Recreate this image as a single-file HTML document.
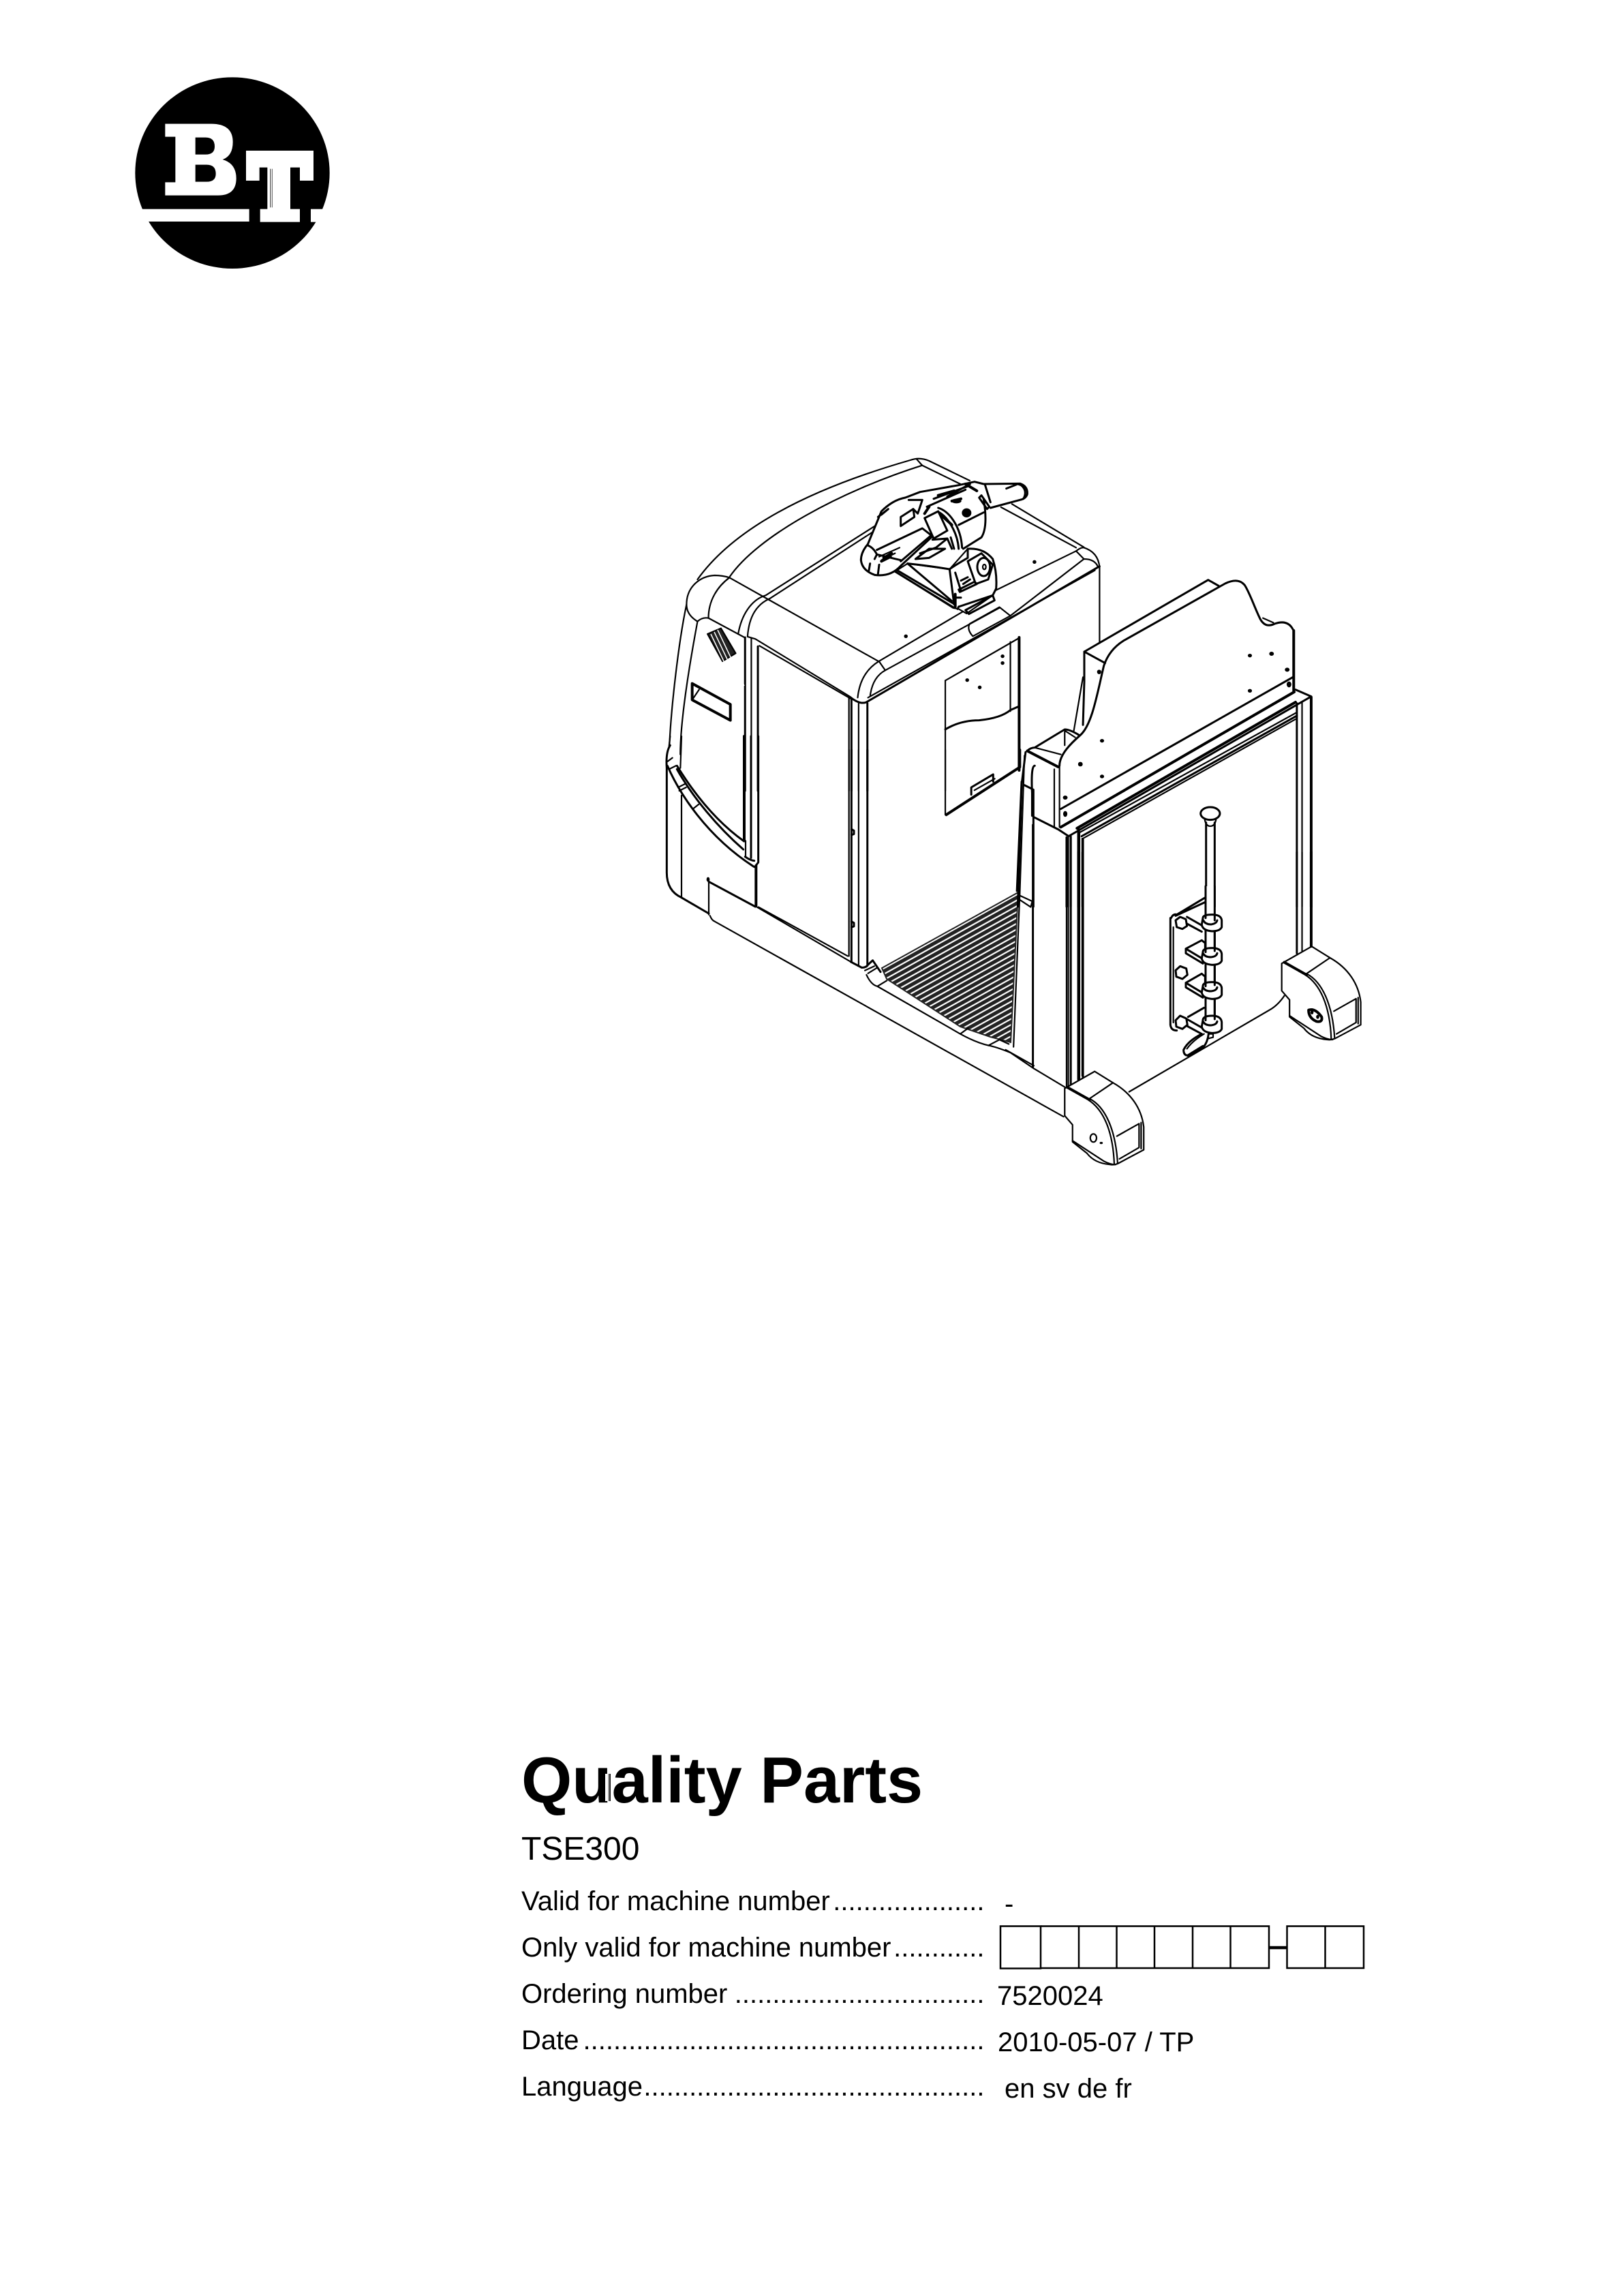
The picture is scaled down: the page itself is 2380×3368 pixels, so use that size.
<!DOCTYPE html>
<html lang="en">
<head>
<meta charset="utf-8">
<title>Quality Parts TSE300</title>
<style>
html,body{margin:0;padding:0;background:#fff;}
svg{display:block;}
.l *,#foot *{vector-effect:non-scaling-stroke;}
.l{fill:none;stroke:#000;stroke-width:2.2;stroke-linecap:round;stroke-linejoin:round;}
.t{font-family:"Liberation Sans",sans-serif;fill:#000;}
.d{fill:#000;stroke:none;}
.w{fill:#fff;}
.b{stroke-width:4;}
.m{stroke-width:3;}
</style>
</head>
<body>
<svg xmlns="http://www.w3.org/2000/svg" width="2380" height="3368" viewBox="0 0 2380 3368">
<defs>
<pattern id="mat" patternUnits="userSpaceOnUse" width="20" height="7.4" patternTransform="rotate(-29)">
<rect width="20" height="7.4" fill="#fff"/><rect width="20" height="5.2" fill="#222"/>
</pattern>
<g id="foot">
<path class="w" d="M215,1040 L330,965 L400,1015 C470,1060 510,1130 518,1210 V1310 L420,1370 Q405,1378 390,1375 Q330,1370 300,1325 L245,1275 V1200 L215,1160 Z"/>
<path d="M310,1085 L400,1015"/>
<path class="b" d="M225,1035 L310,1090"/>
<path d="M310,1085 C370,1120 410,1220 418,1370"/>
<path d="M305,1090 C360,1130 400,1220 405,1375"/>
<path d="M415,1250 L500,1195 V1300 L425,1350"/>
<path d="M508,1190 V1305"/>
<path d="M245,1270 L365,1360 Q390,1375 410,1375"/>
</g>
</defs>
<rect width="2380" height="3368" fill="#fff"/>

<!-- logo -->
<g transform="translate(150 80) scale(.33333)">
<ellipse cx="573" cy="521" rx="428" ry="421" fill="#000"/>
<rect x="100" y="680" width="547" height="55" fill="#fff"/>
<rect x="918" y="680" width="100" height="57" fill="#fff"/>
<path fill="#fff" fill-rule="evenodd" d="M277,305 H480 Q575,305 575,385 Q575,445 530,462 Q590,480 590,545 Q590,620 510,620 H277 V562 H322 V362 H277 Z M410,365 H455 Q495,365 495,405 Q495,440 455,440 H410 Z M410,485 H460 Q500,485 500,525 Q500,560 460,560 H410 Z"/>
<path fill="#fff" d="M633,423 H930 V555 H870 V497 H828 V680 H870 V737 H695 V680 H727 V497 H692 V555 H633 Z"/>
<rect x="738" y="503" width="5" height="170" fill="#777"/>
<rect x="747" y="503" width="2" height="170" fill="#222"/>
</g>

<!-- body: zoom 2 space -->
<g class="l" transform="translate(950 640) scale(.4591 .3333)">
<path d="M160,630 C300,360 600,200 840,105 Q870,90 900,108 L1030,195"/>
<path d="M262,620 C350,440 620,240 878,128 L860,100"/>
<path d="M878,128 L1000,210"/>
<path d="M1130,312 L1370,490 M1165,298 L1395,488"/>
<path d="M290,870 C300,790 330,720 378,700 L730,392"/>
<path d="M320,880 C325,790 350,740 390,715 L735,408"/>
<path d="M262,622 L738,990"/>
<path d="M740,990 Q680,1040 672,1150"/>
<path d="M760,1030 Q720,1060 712,1140"/>
<path d="M740,990 L760,1030"/>
<path d="M740,990 L1010,770 M1110,680 L1370,505"/>
<path d="M760,1030 L1125,755 M1160,790 L1395,540"/>
<path d="M1125,752 L1160,790 M1125,752 L1030,825 Q1020,850 1040,880 L1160,790"/>
<path d="M1370,505 Q1385,488 1395,490 Q1440,510 1445,575"/>
<path d="M1395,540 Q1430,540 1440,575"/>
<path d="M1370,505 L1395,540"/>
<path class="m" d="M1445,572 L700,1170 Q680,1182 650,1150"/>
<path d="M1430,590 L705,1150"/>
<path d="M1445,575 V905"/>
<path d="M320,882 L345,892 L650,1148"/>
<path d="M358,922 L650,1155"/>
<path d="M125,740 C125,660 170,615 215,612 Q240,612 262,622"/>
<path d="M195,800 C195,720 225,660 262,622"/>
<path d="M160,815 C130,790 125,760 125,740"/>
<path d="M160,815 Q175,795 195,800 L310,885"/>
<path d="M125,740 C100,900 75,1200 70,1370"/>
<path d="M160,815 C135,1000 105,1250 105,1400"/>
<path d="M192,870 L235,845 L282,955 L240,990 Z" fill="#222"/>
<path class="b" d="M143,1088 L265,1180 V1250 L143,1160 Z"/>
<path d="M143,1160 L165,1115"/>
<path class="m" d="M312,885 V1560"/>
<path d="M332,890 V1560"/>
<path class="m" d="M353,925 V1560"/>
<path d="M644,1150 V1560"/>
<path class="m" d="M652,1155 V1560"/>
<path d="M675,1175 V1560"/>
<path class="m" d="M703,1175 V1560"/>
<path d="M952,1075 L1185,890"/>
<path class="b" d="M1188,885 V1470"/>
<path d="M952,1075 V1560"/>
<path class="m" d="M952,1290 Q1000,1250 1060,1250 Q1130,1240 1160,1205 L1185,1190"/>
<path d="M1160,905 V1210"/>
<ellipse class="d" cx="1135" cy="968" rx="6" ry="8"/>
<ellipse class="d" cx="1135" cy="998" rx="6" ry="8"/>
<ellipse class="d" cx="1022" cy="1073" rx="6" ry="8"/>
<ellipse class="d" cx="1062" cy="1105" rx="6" ry="8"/>
<ellipse class="d" cx="1237" cy="553" rx="6" ry="8"/>
<ellipse class="d" cx="826" cy="880" rx="6" ry="8"/>
</g>
<g stroke="#fff" stroke-width="1.5" fill="none">
<path d="M1043,930 L1082,1012 M1048,927 L1087,1009 M1053,924 L1092,1006"/>
</g>

<!-- lower body left: zoom 11 space -->
<g class="l" transform="translate(960 1080) scale(.33333)">
<path class="m" d="M70,40 Q50,70 55,140 L55,600 Q55,680 120,710"/>
<path d="M120,0 L115,140 M120,260 L120,710 M70,0 L65,45"/>
<path class="m" d="M100,130 C180,260 280,380 395,462"/>
<path class="m" d="M100,145 C170,270 280,400 392,498"/>
<path class="m" d="M58,130 C110,250 230,440 440,575"/>
<path d="M60,110 L80,95 M65,145 L95,130 M105,225 L135,210 M110,240 L140,225 M170,320 L195,300"/>
<path class="b" d="M396,0 V460"/>
<path d="M402,460 V530"/>
<path class="m" d="M426,0 V535"/>
<path class="m" d="M458,0 V555 L445,572"/>
<path class="m" d="M400,530 Q420,545 440,548"/>
<path class="b" d="M448,570 V745"/>
<path class="m" d="M120,710 L240,780"/>
<path d="M240,640 V785"/>
<ellipse class="d" cx="237" cy="630" rx="7" ry="10"/>
<path class="m" d="M240,640 L445,750"/>
</g>

<!-- mat -->
<polygon points="1294,1420 1494,1309 1483,1529 1453,1521 1409,1506 1301,1436" fill="url(#mat)" stroke="#222" stroke-width="2"/>

<!-- base: zoom 3 space -->
<g class="l" transform="translate(950 1100) scale(.4591 .423)">
<path d="M200,575 Q205,590 215,595 L1330,1272"/>
<path d="M350,545 L650,735 M355,545 L640,715"/>
<path class="m" d="M650,735 L685,755 Q700,755 705,745 L720,730 L745,770"/>
<path d="M695,765 L725,750 M705,775 L735,755"/>
<path d="M700,780 Q715,815 735,820 L1000,985 Q1050,1015 1090,1025 Q1115,1030 1160,1050 L1235,1105 L1335,1170"/>
<path d="M735,820 L765,800 M1000,985 L1025,965 M1090,1025 L1125,1005 L1155,1020"/>
<path d="M1145,1040 L1235,1095"/>
<path d="M1205,20 L1190,500 L1170,1030"/>
<path d="M1195,110 L1180,490"/>
<path class="m" d="M1232,260 V1100"/>
<path d="M1190,505 L1230,525 L1225,545 L1190,520"/>
<path d="M644,0 V715"/>
<path class="m" d="M652,0 V735"/>
<path d="M675,0 V750"/>
<path class="m" d="M703,0 V745"/>
<path class="m" d="M652,275 L660,280 V292 L652,295 M652,595 L660,600 V612 L652,615"/>
<path class="b" d="M955,225 L1190,60 V0"/>
<path d="M952,0 V225"/>
<path class="m" d="M1035,155 V130 L1105,85 V110"/>
<path d="M1045,140 L1110,100"/>
<path d="M1345,300 V1170"/>
<path class="m" d="M1353,300 V1170"/>
<path class="m" d="M1380,285 V1150"/>
<path class="m" d="M1392,310 V1140"/>
</g>

<!-- backrest: zoom 4 space -->
<g class="l" transform="translate(1480 830) scale(.3827 .3333)">
<path class="w" d="M195,880 C195,830 240,780 275,745 C320,700 340,560 365,440 L290,378 L765,62 L830,78 Q880,50 905,85 C925,120 945,190 965,235 Q985,275 1020,255 Q1070,235 1090,280 L1095,555 L195,1150 Z" stroke="none"/>
<path class="m" d="M290,378 L765,62 L805,88"/>
<path class="m" d="M290,378 L370,428"/>
<path class="m" d="M195,880 C195,830 240,780 275,745 C320,700 340,560 365,440 Q385,370 440,330 L830,78 Q880,50 905,85 C925,120 945,190 965,235 Q985,275 1020,255 Q1070,235 1090,280"/>
<path class="b" d="M1093,285 V550"/>
<path d="M975,230 L1015,250"/>
<path d="M195,880 V1150"/>
<path class="m" d="M200,1070 L1090,490"/>
<path class="b" d="M200,1150 L1095,555"/>
<path class="m" d="M290,380 V510 L285,700"/>
<path d="M285,490 L250,725"/>
<path class="m" d="M70,815 Q85,800 100,800 L215,720 Q235,720 270,745"/>
<path class="b" d="M72,815 L190,885"/>
<path d="M100,800 L200,830 M215,730 V790 M215,725 L255,755"/>
<path d="M175,895 V1150"/>
<path class="m" d="M100,880 Q85,880 90,1000 V1100"/>
<path class="m" d="M65,820 L50,960 L35,1500"/>
<path class="m" d="M60,965 L95,985 V1500"/>
<path class="m" d="M95,1105 L190,1160 L230,1190 L1160,575 L1100,545"/>
<path class="b" d="M262,1155 L1100,600"/>
<path d="M270,1175 L1105,645"/>
<path class="m" d="M280,1190 L1105,660"/>
<path d="M285,1200 L1105,672"/>
<path class="m" d="M222,1195 V1500"/>
<path class="m" d="M238,1195 V1500"/>
<path class="b" d="M268,1160 V1500"/>
<path d="M282,1200 V1500"/>
<path class="m" d="M1105,605 V1500"/>
<path d="M1125,600 V1500"/>
<path class="b" d="M1160,578 V1500"/>
<g class="d">
<ellipse cx="925" cy="395" rx="8" ry="8"/><ellipse cx="1008" cy="387" rx="9" ry="9"/><ellipse cx="1068" cy="457" rx="9" ry="9"/><ellipse cx="1075" cy="522" rx="9" ry="13"/><ellipse cx="925" cy="550" rx="8" ry="8"/><ellipse cx="347" cy="467" rx="8" ry="10"/><ellipse cx="358" cy="770" rx="8" ry="8"/><ellipse cx="275" cy="873" rx="9" ry="10"/><ellipse cx="358" cy="927" rx="8" ry="8"/><ellipse cx="217" cy="1020" rx="9" ry="9"/><ellipse cx="217" cy="1092" rx="8" ry="13"/>
</g>
<path class="m" d="M757,1130 V1500 M790,1130 V1500"/>
<ellipse class="w m" cx="773" cy="1090" rx="37" ry="28"/>
<path d="M752,1118 Q757,1146 773,1146 Q790,1146 795,1118"/>
</g>

<!-- feet: zoom 5 space -->
<g class="l" transform="translate(1480 1250) scale(.3827 .3333)">
<path d="M222,0 V1030 M238,0 V1025"/>
<path class="b" d="M268,0 V1000"/>
<path d="M282,0 V985"/>
<path class="m" d="M1105,0 V445"/>
<path d="M1125,0 V435"/>
<path class="b" d="M1160,0 V415"/>
<use href="#foot"/>
<use href="#foot" transform="translate(832 -550)"/>
<ellipse cx="325" cy="1258" rx="12" ry="18"/>
<ellipse class="d" cx="355" cy="1280" rx="6" ry="5"/>
<path class="b" d="M1150,695 Q1175,685 1200,725 Q1205,750 1180,745 Q1150,730 1150,695 Z"/>
<ellipse class="d" cx="1163" cy="705" rx="6" ry="9"/>
<ellipse class="d" cx="1185" cy="725" rx="6" ry="9"/>
</g>
<!-- ground line -->
<path d="M1656,1602 L1862,1482 Q1875,1475 1885,1460" fill="none" stroke="#000" stroke-width="2.2"/>

<!-- hinge bracket: zoom 12 space -->
<g class="l" transform="translate(1700 1300) scale(.33333)">
<path class="m" d="M55,140 Q65,120 80,125 L205,50 M75,130 L205,70"/>
<path class="m" d="M52,140 V610 Q55,635 80,635"/>
<path d="M65,180 V600"/>
<rect x="204" y="0" width="46" height="630" class="w" stroke="none"/>
<path class="m" d="M207,0 V610 M247,0 V610"/>
<g class="w m">
<path d="M75,150 L95,135 L120,145 L125,175 L105,188 L80,180 Z"/>
<path d="M75,370 L95,352 L122,362 L127,390 L105,408 L78,398 Z"/>
<path d="M75,590 L95,570 L122,582 L127,610 L105,628 L78,618 Z"/>
</g>
<path class="m" d="M125,135 L195,175 M125,165 L190,200"/>
<path class="m" d="M125,585 L195,625 M125,615 L190,650 M130,575 L200,535"/>
<path class="w m" d="M120,275 L190,238 L205,250 V300 L195,320 L120,275 V295 L195,340"/>
<path class="w m" d="M120,425 L190,385 L205,398 V450 L195,470 L120,425 V445 L195,490"/>
<g class="w m">
<path d="M195,140 Q195,125 235,125 Q275,125 278,150 V180 Q270,198 235,198 Q195,195 190,170 Z"/>
<path d="M195,290 Q195,272 235,272 Q275,272 278,298 V328 Q270,346 235,346 Q195,343 190,318 Z"/>
<path d="M195,440 Q195,422 235,422 Q275,422 278,448 V478 Q270,496 235,496 Q195,493 190,468 Z"/>
<path d="M195,590 Q195,570 235,570 Q275,570 278,598 V628 Q270,646 235,646 Q195,643 190,618 Z"/>
</g>
<path class="m" d="M197,150 Q205,168 230,168 Q255,165 258,150 M207,125 V140 M247,125 V150"/>
<path class="m" d="M207,200 V290 M247,200 V285 M207,346 V440 M247,346 V435 M207,496 V590 M247,496 V585"/>
<path class="m" d="M197,297 Q205,312 230,312 Q255,310 258,295"/>
<path class="m" d="M197,447 Q205,462 230,462 Q255,460 258,445"/>
<path class="m" d="M197,597 Q205,612 230,612 Q255,610 258,595"/>
<path class="w m" d="M190,650 Q130,680 110,720 Q110,745 130,745 L195,710 Q215,690 220,650"/>
<path d="M125,715 Q150,680 200,650 M220,650 L240,650 V665 L220,670"/>
<path class="b" d="M130,745 L195,705"/>
</g>

<!-- handle and console: zoom 10 space -->
<g class="l" transform="translate(1250 690) scale(.33333)">
<path class="w" d="M190,445 L245,410 L430,435 L510,345 Q580,340 620,390 Q640,450 635,520 L620,550 L505,630 L470,610 L445,605 Z"/>
<path class="m" d="M190,445 L450,605 M200,440 L445,585"/>
<path class="m" d="M245,410 L440,575"/>
<path class="m" d="M430,435 Q450,420 510,385 L510,345 Q580,340 620,390 Q640,450 635,520 L620,550 L470,600"/>
<path class="m" d="M430,435 L450,590 M470,600 L465,610"/>
<path class="m" d="M500,615 L620,550 L628,572 L515,632 Z"/>
<path class="m" d="M245,410 Q340,420 430,435"/>
<path class="m" d="M510,400 L570,365 L620,415 L600,480 L545,500 Z"/>
<ellipse class="m" cx="580" cy="425" rx="28" ry="40"/>
<ellipse cx="583" cy="425" rx="7" ry="11"/>
<path class="m" d="M470,525 L540,490 L550,500 L475,535 Z M480,485 L510,470 M490,500 L520,480"/>
<path class="m" d="M455,450 L480,530 M480,560 H455"/>
<path class="b" d="M455,545 V600"/>
<path class="w" d="M40,395 Q40,360 70,325 L130,180 Q180,130 235,120 L300,95 L470,65 L540,50 L580,60 L740,58 Q775,70 772,105 Q765,125 740,130 L610,165 L595,175 Q600,260 570,295 L490,345 L470,350 L360,290 L215,420 Q170,470 100,460 Q45,440 40,395 Z" stroke="none"/>
<path class="m" d="M40,395 Q40,360 70,325 L130,180 Q180,130 235,120 L300,95 L470,65 L540,50 L580,60 L740,58 Q775,70 772,105 Q765,125 740,130 L610,165"/>
<path class="m" d="M40,395 Q45,440 100,460 Q170,470 215,420 L355,290 L310,255 L110,350"/>
<path class="m" d="M70,330 Q95,340 110,370 L215,395 M110,370 L100,390 M80,410 L75,440 M120,415 L115,455"/>
<path d="M120,380 L210,340 M130,395 L190,365"/>
<path class="m" d="M215,400 L350,285"/>
<path class="b" d="M140,385 L175,365 M130,400 L170,380"/>
<path class="m" d="M585,60 L610,140 M680,80 L730,60 L745,65 M745,65 Q775,90 755,125"/>
<path class="m" d="M560,120 L595,170 L605,160 L570,110 Z"/>
<path class="m" d="M580,125 Q600,250 570,295 L490,345"/>
<path class="m" d="M470,240 L580,185"/>
<path class="m" d="M380,165 C430,180 480,250 485,340"/>
<path class="m" d="M385,185 C420,205 465,270 470,345"/>
<path class="b" d="M390,195 Q430,230 440,240"/>
<path class="m" d="M320,210 L380,180 L420,265 L360,300 Z"/>
<path class="m" d="M420,300 L440,345 M435,295 L450,345"/>
<path class="m" d="M355,305 L420,300 L370,340 L300,365"/>
<path class="m" d="M280,390 L340,345 L410,345 L340,385 Z"/>
<path class="m" d="M215,205 L270,170 L275,205 L215,245 Z"/>
<path class="m" d="M250,130 L310,130 L290,190 L270,170"/>
<path class="m" d="M115,205 L160,170 L130,195"/>
<path class="m" d="M330,160 L500,85 M360,125 L510,70 M420,115 L520,60"/>
<path class="b" d="M380,110 L450,90 M440,135 L480,125"/>
<path class="b" d="M320,190 L340,160 M500,60 L550,90"/>
<ellipse class="d" cx="505" cy="187" rx="21" ry="20"/>
<ellipse class="d" cx="460" cy="135" rx="22" ry="10"/>
</g>

<!-- text -->
<g class="t">
<text x="765" y="2644" font-size="95.5" font-weight="700">Quality Parts</text>
<rect x="888" y="2602" width="4.5" height="40" fill="#fff"/>
<rect x="892.5" y="2602" width="2" height="40" fill="#777"/>
<rect x="894.5" y="2602" width="1.5" height="40" fill="#111"/>
<text x="765" y="2728" font-size="48">TSE300</text>
<g font-size="40">
<text x="765" y="2802">Valid for machine number</text>
<text x="1444.5" y="2802" text-anchor="end">....................</text>
<text x="1474" y="2806">-</text>
<text x="765" y="2870">Only valid for machine number</text>
<text x="1444.5" y="2870" text-anchor="end">............</text>
<text x="765" y="2938">Ordering number</text>
<text x="1444.5" y="2938" text-anchor="end">.................................</text>
<text x="1463" y="2941">7520024</text>
<text x="765" y="3006">Date</text>
<text x="1444.5" y="3006" text-anchor="end">.....................................................</text>
<text x="1464" y="3009">2010-05-07 / TP</text>
<text x="765" y="3074">Language</text>
<text x="1444.5" y="3074" text-anchor="end">.............................................</text>
<text x="1474" y="3077">en sv de fr</text>
</g>
</g>
<g fill="none" stroke="#000" stroke-width="2.5">
<rect x="1468" y="2825.5" width="59" height="62"/>
<path d="M1527,2825.5 H1862 V2887 H1527"/>
<path d="M1583,2825 V2887 M1638.5,2825 V2887 M1694,2825 V2887 M1750,2825 V2887 M1805.5,2825 V2887"/>
<rect x="1888.5" y="2825.5" width="112.5" height="61.5"/>
<path d="M1944.5,2825 V2887"/>
<path d="M1862,2857 H1888" stroke-width="4.5"/>
</g>
</svg>
</body>
</html>
